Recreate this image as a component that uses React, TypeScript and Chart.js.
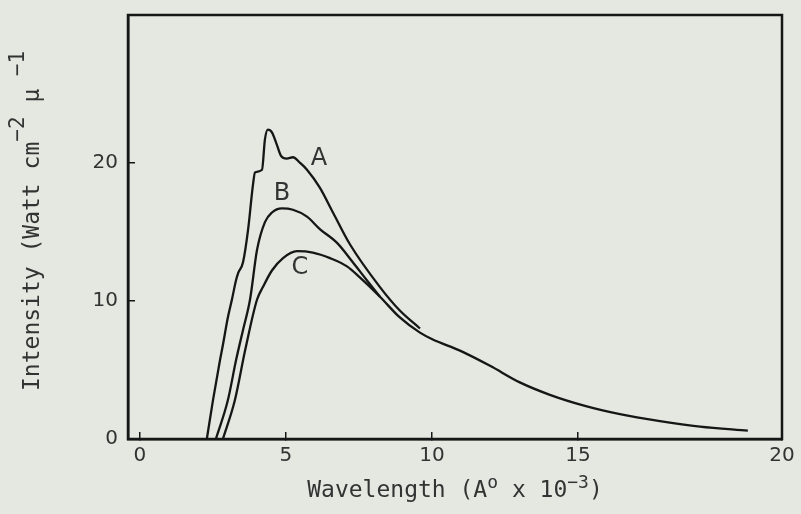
import React, { useEffect, useRef } from 'react';
import { Chart, registerables } from 'chart.js';

Chart.register(...registerables);

// Curve A (wavelength ×10^-3 Å, intensity)
const aX = [2.29, 2.5, 2.74, 2.84, 3.01, 3.15, 3.29, 3.36, 3.53, 3.7, 3.87, 3.94, 4.18, 4.28, 4.38, 4.52, 4.69, 4.83, 5.03, 5.24, 5.48, 5.72, 6.16, 6.61, 7.19, 8.22, 8.9, 9.59];
const aY = [0, 2.8, 5.7, 6.8, 8.8, 10.1, 11.5, 12.0, 12.8, 15.1, 18.4, 19.3, 19.5, 21.7, 22.4, 22.2, 21.3, 20.5, 20.3, 20.4, 20.0, 19.5, 18.2, 16.4, 14.1, 11.0, 9.3, 8.0];

// Curve B
const bX = [2.6, 3.01, 3.29, 3.53, 3.77, 4.01, 4.28, 4.52, 4.86, 5.24, 5.72, 6.16, 6.75, 7.29, 7.77, 8.22];
const bY = [0, 2.8, 5.7, 7.9, 10.1, 13.7, 15.7, 16.4, 16.7, 16.6, 16.1, 15.2, 14.2, 12.8, 11.5, 10.3];

// Curve C
const cX = [2.84, 3.25, 3.6, 4.01, 4.21, 4.52, 4.9, 5.38, 5.92, 6.51, 7.09, 7.53, 8.22, 8.9, 9.59, 10.03, 10.96, 11.99, 13.01, 14.04, 15.24, 16.44, 17.81, 19.18, 20.82];
const cY = [0, 2.8, 6.4, 10.1, 11.0, 12.2, 13.1, 13.6, 13.5, 13.1, 12.5, 11.7, 10.3, 8.8, 7.7, 7.2, 6.4, 5.3, 4.1, 3.2, 2.4, 1.8, 1.3, 0.9, 0.6];

const curveNames = ['A', 'B', 'C'];
const curveLabelX = [6.13, 4.86, 5.48];
const curveLabelY = [20.3, 17.75, 12.4];

const xTickValues = [0, 5, 10, 15];
const xTickLabels = ['0', '5', '10', '15', '20'];
const yTickValues = [0, 10, 20];

// Axis titles as [text, isSuperscript] runs
const xTitleRuns: [string, boolean][] = [['Wavelength (A', false], ['o', true], [' x 10', false], ['−3', true], [')', false]];
const yTitleRuns: [string, boolean][] = [['Intensity (Watt cm', false], ['−2', true], [' μ', false], [' −1', true]];

const X_MIN = -0.41;
const X_MAX = 21.99;
const Y_MIN = 0;
const Y_MAX = 30.7;

const INK = '#161616';
const TEXT = '#333333';
const PAPER = '#e4e8e0';
const SANS = '"DejaVu Sans", sans-serif';
const MONO = '"DejaVu Sans Mono", monospace';

const toPoints = (xs: number[], ys: number[]) => xs.map((x, i) => ({ x, y: ys[i] }));

function drawRuns(ctx: CanvasRenderingContext2D, runs: [string, boolean][], mainSize: number, supSize: number, raise: number) {
  let w = 0;
  runs.forEach(([t, sup]) => {
    ctx.font = `${sup ? supSize : mainSize}px ${MONO}`;
    ctx.fillText(t, w, sup ? -raise : 0);
    w += ctx.measureText(t).width;
  });
  return w;
}

function measureRuns(ctx: CanvasRenderingContext2D, runs: [string, boolean][], mainSize: number, supSize: number) {
  let w = 0;
  runs.forEach(([t, sup]) => {
    ctx.font = `${sup ? supSize : mainSize}px ${MONO}`;
    w += ctx.measureText(t).width;
  });
  return w;
}

const framePlugin = {
  id: 'frameAndLabels',
  beforeDraw(chart: any) {
    const { ctx, width, height } = chart;
    ctx.save();
    ctx.fillStyle = PAPER;
    ctx.fillRect(0, 0, width, height);
    ctx.restore();
  },
  afterDraw(chart: any) {
    const { ctx, chartArea, scales } = chart;
    const { left, top, right, bottom } = chartArea;
    ctx.save();
    ctx.strokeStyle = INK;
    ctx.lineWidth = 2.5;
    ctx.strokeRect(left, top, right - left, bottom - top);

    // curve labels
    ctx.font = `24px ${SANS}`;
    ctx.fillStyle = TEXT;
    ctx.textAlign = 'center';
    ctx.textBaseline = 'middle';
    curveNames.forEach((n, i) => {
      ctx.fillText(n, scales.x.getPixelForValue(curveLabelX[i]), scales.y.getPixelForValue(curveLabelY[i]));
    });

    // x title (centred under the plot area)
    ctx.textAlign = 'left';
    ctx.textBaseline = 'middle';
    const xw = measureRuns(ctx, xTitleRuns, 23, 18);
    ctx.save();
    ctx.translate((left + right) / 2 - xw / 2, bottom + 52);
    drawRuns(ctx, xTitleRuns, 23, 18, 8);
    ctx.restore();

    // y title (rotated, reading upward)
    ctx.save();
    ctx.translate(left - 95, bottom - 48);
    ctx.rotate(-Math.PI / 2);
    drawRuns(ctx, yTitleRuns, 23, 21, 14);
    ctx.restore();

    ctx.restore();
  },
};

const lineStyle = {
  borderColor: INK,
  borderWidth: 2.3,
  pointRadius: 0,
  fill: false,
  cubicInterpolationMode: 'monotone' as const,
};

export default function App() {
  const ref = useRef<HTMLCanvasElement | null>(null);

  useEffect(() => {
    if (!ref.current) return;
    const chart = new Chart(ref.current, {
      type: 'line',
      data: {
        datasets: [
          { label: 'A', data: toPoints(aX, aY), ...lineStyle },
          { label: 'B', data: toPoints(bX, bY), ...lineStyle },
          { label: 'C', data: toPoints(cX, cY), ...lineStyle },
        ],
      },
      options: {
        animation: false,
        responsive: false,
        devicePixelRatio: 1,
        layout: { padding: { left: 0, right: 19, top: 15, bottom: 0 } },
        plugins: { legend: { display: false }, tooltip: { enabled: false } },
        scales: {
          x: {
            type: 'linear',
            min: X_MIN,
            max: X_MAX,
            afterBuildTicks: (s: any) => {
              s.ticks = [...xTickValues, X_MAX].map((v) => ({ value: v }));
            },
            afterFit: (s: any) => {
              s.height = 75;
              s.paddingLeft = 0;
              s.paddingRight = 0;
            },
            ticks: {
              autoSkip: false,
              maxRotation: 0,
              padding: 12,
              color: TEXT,
              font: { family: SANS, size: 20 },
              callback: (_v: any, i: number) => xTickLabels[i],
            },
            grid: { drawOnChartArea: false, tickLength: -7, color: INK, lineWidth: 1.5 },
            border: { display: true, color: INK, width: 2.5 },
            title: { display: false },
          },
          y: {
            type: 'linear',
            min: Y_MIN,
            max: Y_MAX,
            afterBuildTicks: (s: any) => {
              s.ticks = yTickValues.map((v) => ({ value: v }));
            },
            afterFit: (s: any) => {
              s.width = 128;
              s.paddingTop = 0;
              s.paddingBottom = 0;
            },
            ticks: {
              padding: 17,
              color: TEXT,
              font: { family: SANS, size: 20 },
            },
            grid: { drawOnChartArea: false, tickLength: -7, color: INK, lineWidth: 1.5 },
            border: { display: true, color: INK, width: 2.5 },
            title: { display: false },
          },
        },
      },
      plugins: [framePlugin],
    } as any);
    return () => chart.destroy();
  }, []);

  return (
    <div style={{ position: 'fixed', left: 0, top: 0, width: 801, height: 514, background: PAPER }}>
      <canvas ref={ref} width={801} height={514} style={{ display: 'block' }} />
    </div>
  );
}
